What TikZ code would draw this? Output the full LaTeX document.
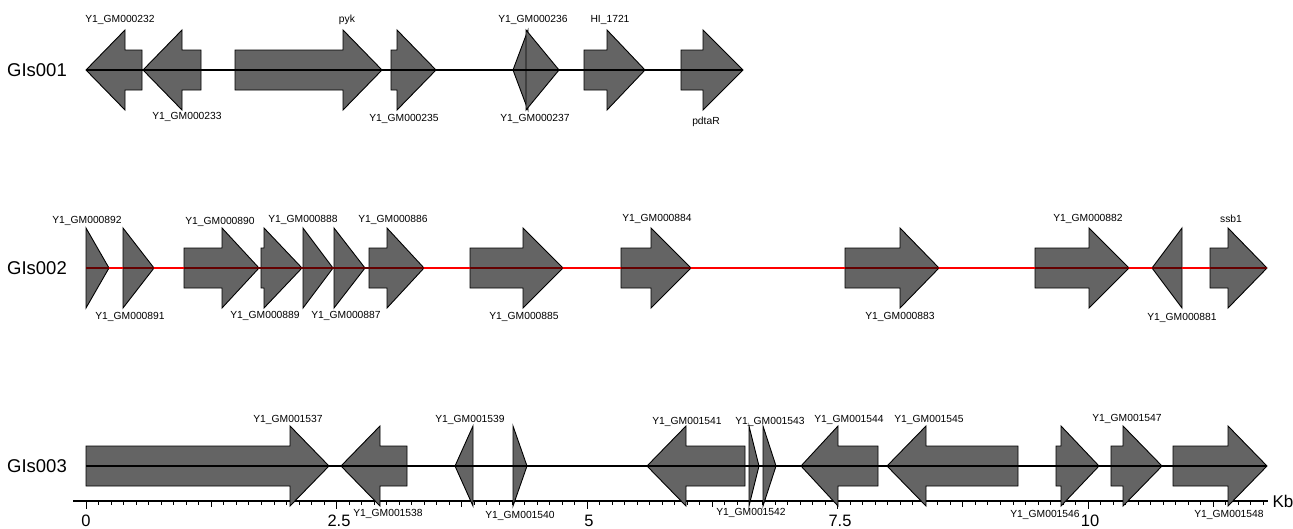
\documentclass[tikz,border=0pt]{standalone}
\usepackage{fontspec}
\setmainfont{Liberation Sans}
\definecolor{genefill}{RGB}{100,100,100}
\definecolor{track}{RGB}{255,0,0}
\definecolor{trackdark}{RGB}{100,0,0}
\tikzset{
  gene/.style={draw=black, line width=0.9pt, fill=genefill, line join=miter},
  glabel/.style={font=\fontsize{10.3}{12}\selectfont, inner sep=0pt},
  rowlabel/.style={font=\fontsize{18.5}{20}\selectfont, inner sep=0pt},
  ticklabel/.style={font=\fontsize{16.5}{18}\selectfont, inner sep=0pt},
  backbone/.style={line width=2pt},
}
% right-pointing arrow: start, head base, tip, centre y
\newcommand{\geneR}[4]{\path[gene] (#1,#4-20) -- (#2,#4-20) -- (#2,#4-40) -- (#3,#4) -- (#2,#4+40) -- (#2,#4+20) -- (#1,#4+20) -- cycle;}
% left-pointing arrow: tip, head base, end, centre y
\newcommand{\geneL}[4]{\path[gene] (#1,#4) -- (#2,#4-40) -- (#2,#4-20) -- (#3,#4-20) -- (#3,#4+20) -- (#2,#4+20) -- (#2,#4+40) -- cycle;}
% triangles: base, tip, y
\newcommand{\triG}[3]{\path[gene] (#1,#3-40) -- (#2,#3) -- (#1,#3+40) -- cycle;}
\begin{document}
\begin{tikzpicture}[x=1pt,y=-1pt]
\useasboundingbox (0,0) rectangle (1293,528);
\fill[white] (0,0) rectangle (1293,528);

%================ GIs001 ================
\node[rowlabel] (r1) at (37,70) {GIs001};
\geneL{86}{125}{142}{70}
\geneL{143}{182}{201}{70}
\geneR{235}{343}{382}{70}
\geneR{391}{397}{436}{70}
\triG{528}{513}{70}
\triG{526}{559}{70}
\geneR{584}{607}{645}{70}
\geneR{681}{703}{743}{70}
\coordinate (a1) at (86,70);
\coordinate (b1) at (743,70);
\draw[backbone,black] (a1) -- (b1);
\node[glabel] (l232) at (120,20) {Y1\_GM000232};
\node[glabel] (l233) at (187,117) {Y1\_GM000233};
\node[glabel] (lpyk) at (347,20) {pyk};
\node[glabel] (l235) at (404,119) {Y1\_GM000235};
\node[glabel] (l236) at (533,20) {Y1\_GM000236};
\node[glabel] (lhi) at (610,20) {HI\_1721};
\node[glabel] (l237) at (535,119) {Y1\_GM000237};
\node[glabel] (lpd) at (706,122) {pdtaR};

%================ GIs002 ================
\node[rowlabel] (r2) at (37,268) {GIs002};
\triG{86}{109}{268}
\triG{123}{154}{268}
\geneR{184}{222}{259}{268}
\geneR{261}{264}{302}{268}
\triG{303}{333}{268}
\triG{334}{365}{268}
\geneR{369}{387}{424}{268}
\geneR{470}{523}{563}{268}
\geneR{621}{651}{691}{268}
\geneR{845}{900}{939}{268}
\geneR{1035}{1089}{1129}{268}
\triG{1182}{1152}{268}
\geneR{1210}{1228}{1267}{268}
\coordinate (a2) at (86,268);
\coordinate (b2) at (1267,268);
% track: dark red where it runs through genes, bright red in the gaps
\draw[backbone,trackdark] (a2) -- (b2);
\foreach \p/\q in {109/123,154/184,424/470,563/621,691/845,939/1035,1129/1152,1182/1210} {
  \draw[backbone,track] (\p,268) -- (\q,268);
}
\node[glabel] (l892) at (87,221) {Y1\_GM000892};
\node[glabel] (l891) at (130,317) {Y1\_GM000891};
\node[glabel] (l890) at (220,222) {Y1\_GM000890};
\node[glabel] (l888) at (303,220) {Y1\_GM000888};
\node[glabel] (l886) at (393,220) {Y1\_GM000886};
\node[glabel] (l889) at (265,316) {Y1\_GM000889};
\node[glabel] (l887) at (346,316) {Y1\_GM000887};
\node[glabel] (l885) at (524,317) {Y1\_GM000885};
\node[glabel] (l884) at (657,219) {Y1\_GM000884};
\node[glabel] (l883) at (900,317) {Y1\_GM000883};
\node[glabel] (l882) at (1088,219) {Y1\_GM000882};
\node[glabel] (l881) at (1182,318) {Y1\_GM000881};
\node[glabel] (lssb) at (1231,219) {ssb1};

%================ GIs003 ================
\node[rowlabel] (r3) at (37,466) {GIs003};
% axis
\coordinate (ax0) at (73,501);
\coordinate (ax1) at (1268,501);
\draw[line width=1.1pt] (ax0) -- (ax1);
\foreach \i in {0,...,94} {
  \pgfmathsetmacro{\xx}{86+\i*12.525}
  \pgfmathtruncatemacro{\mf}{mod(\i,20)}
  \pgfmathtruncatemacro{\mt}{mod(\i,10)}
  \ifnum\mf=0
    \draw[line width=0.9pt] (\xx,501) -- (\xx,509);
  \else\ifnum\mt=0
    \draw[line width=0.9pt] (\xx,501) -- (\xx,507);
  \else
    \draw[line width=0.7pt] (\xx,501) -- (\xx,504.5);
  \fi\fi
}
\node[ticklabel] (t0) at (86,521) {0};
\node[ticklabel] (t25) at (339,521) {2.5};
\node[ticklabel] (t5) at (589,521) {5};
\node[ticklabel] (t75) at (840,521) {7.5};
\node[ticklabel] (t10) at (1090,521) {10};
\node[font=\fontsize{17}{19}\selectfont, inner sep=0pt] (kb) at (1283,501) {Kb};

\geneR{86}{290}{329}{466}
\geneL{341}{380}{407}{466}
\triG{473}{455}{466}
\triG{513}{527}{466}
\geneL{647}{686}{745}{466}
\triG{749}{759}{466}
\triG{763}{776}{466}
\geneL{801}{838}{878}{466}
\geneL{887}{926}{1018}{466}
\geneR{1056}{1061}{1099}{466}
\geneR{1111}{1123}{1162}{466}
\geneR{1173}{1228}{1267}{466}
\coordinate (a3) at (86,466);
\coordinate (b3) at (1267,466);
\draw[backbone,black] (a3) -- (b3);
\node[glabel] (l1537) at (288,420) {Y1\_GM001537};
\node[glabel] (l1538) at (388,514) {Y1\_GM001538};
\node[glabel] (l1539) at (470,420) {Y1\_GM001539};
\node[glabel] (l1540) at (520,516) {Y1\_GM001540};
\node[glabel] (l1541) at (687,422) {Y1\_GM001541};
\node[glabel] (l1543) at (770,422) {Y1\_GM001543};
\node[glabel] (l1542) at (751,513) {Y1\_GM001542};
\node[glabel] (l1544) at (849,420) {Y1\_GM001544};
\node[glabel] (l1545) at (929,420) {Y1\_GM001545};
\node[glabel] (l1546) at (1045,515) {Y1\_GM001546};
\node[glabel] (l1547) at (1127,419) {Y1\_GM001547};
\node[glabel] (l1548) at (1229,515) {Y1\_GM001548};
\end{tikzpicture}
\end{document}
